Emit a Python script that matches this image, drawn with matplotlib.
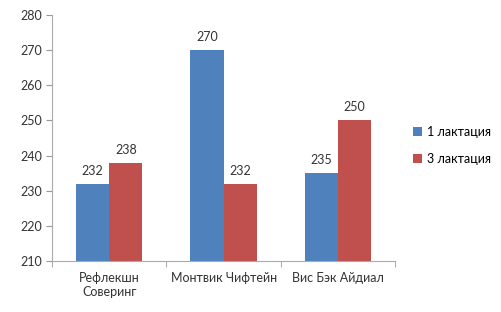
import matplotlib.pyplot as plt
import numpy as np

plt.rcParams['font.family'] = ['Lato', 'DejaVu Sans']

categories = ['Рефлекшн\nСоверинг', 'Монтвик Чифтейн', 'Вис Бэк Айдиал']
lact1 = [232, 270, 235]
lact3 = [238, 232, 250]
series_names = ['1 лактация', '3 лактация']

fig = plt.figure(figsize=(5.02, 3.12), dpi=100)
ax = fig.add_axes([0.104, 0.163, 0.683, 0.789])

x = np.arange(len(categories))
w = 0.29
b1 = ax.bar(x - w/2, lact1, w, color='#4F81BD', label=series_names[0])
b2 = ax.bar(x + w/2, lact3, w, color='#C0504D', label=series_names[1])

for bars, vals in ((b1, lact1), (b2, lact3)):
    for r, v in zip(bars, vals):
        ax.text(r.get_x() + r.get_width()/2, v + 2, str(v), ha='center', va='bottom',
                fontsize=9, color='#333333')

ax.set_ylim(210, 280)
ax.set_yticks(range(210, 281, 10))
ax.set_xlim(-0.5, 2.5)
ax.set_xticks(x)
ax.set_xticklabels(categories, fontsize=9, color='#333333', va='top')
ax.set_xticks([-0.5, 0.5, 1.5, 2.5], minor=True)
ax.tick_params(axis='x', which='major', length=0, pad=8)
ax.tick_params(axis='x', which='minor', length=4, color='#999999')
ax.tick_params(axis='y', labelsize=9, labelcolor='#333333', color='#999999', length=4)

for s in ['top', 'right']:
    ax.spines[s].set_visible(False)
ax.spines['left'].set_color('#AAAAAA')
ax.spines['bottom'].set_color('#AAAAAA')

ax.legend(loc='center left', bbox_to_anchor=(1.02, 0.47), frameon=False, fontsize=9,
          handlelength=0.7, handleheight=0.7, labelspacing=1.2, handletextpad=0.4)

fig.savefig('out.png', dpi=100)
